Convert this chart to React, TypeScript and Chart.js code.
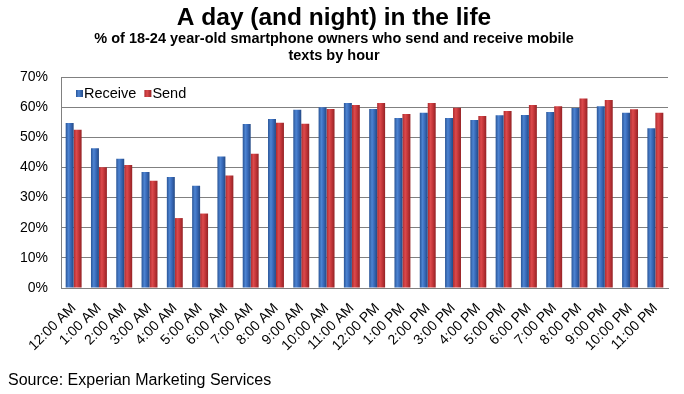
import React, { useEffect, useRef } from "react";
import { Chart, registerables } from "chart.js";

Chart.register(...registerables);

const hours: string[] = [
  "12:00 AM", "1:00 AM", "2:00 AM", "3:00 AM", "4:00 AM", "5:00 AM",
  "6:00 AM", "7:00 AM", "8:00 AM", "9:00 AM", "10:00 AM", "11:00 AM",
  "12:00 PM", "1:00 PM", "2:00 PM", "3:00 PM", "4:00 PM", "5:00 PM",
  "6:00 PM", "7:00 PM", "8:00 PM", "9:00 PM", "10:00 PM", "11:00 PM",
];

const receiveValues: number[] = [
  54.7, 46.4, 42.9, 38.5, 36.8, 33.9, 43.6, 54.4, 56.1, 59.1, 60.0, 61.4,
  59.4, 56.4, 58.1, 56.4, 55.7, 57.3, 57.4, 58.4, 59.7, 60.3, 58.1, 53.0,
];

const sendValues: number[] = [
  52.5, 40.1, 40.8, 35.6, 23.2, 24.7, 37.3, 44.5, 54.8, 54.5, 59.4, 60.7,
  61.4, 57.7, 61.4, 59.8, 57.1, 58.7, 60.7, 60.3, 62.9, 62.4, 59.3, 58.1,
];

const yTicks: number[] = [0, 10, 20, 30, 40, 50, 60, 70];

const titleText = "A day (and night) in the life";
const subtitleLines = [
  "% of 18-24 year-old smartphone owners who send and receive mobile",
  "texts by hour",
];
const sourceText = "Source: Experian Marketing Services";

const FONT = "Arial, 'Liberation Sans', sans-serif";
const CAT_PCT = 0.63;

const palette = {
  receive: ["#2a5597", "#4d84d2", "#3a6cbc", "#244a85"],
  send: ["#ad2b2f", "#dc4a4c", "#c7383b", "#942225"],
};

function barGradient(ctx: any, colors: string[]) {
  const chart = ctx.chart;
  const xs = chart.scales && chart.scales.x;
  if (!chart.chartArea || !xs || ctx.dataIndex === undefined) return colors[2];
  const n = chart.data.labels.length;
  const bw = (xs.width / n) * CAT_PCT / 2;
  const center = xs.getPixelForValue(ctx.dataIndex) + (ctx.datasetIndex === 0 ? -bw / 2 : bw / 2);
  const left = center - bw / 2;
  const right = center + bw / 2;
  const g = chart.ctx.createLinearGradient(left, 0, right, 0);
  g.addColorStop(0, colors[0]);
  g.addColorStop(0.35, colors[1]);
  g.addColorStop(0.6, colors[2]);
  g.addColorStop(1, colors[3]);
  return g;
}

const overlayPlugin = {
  id: "overlay",
  afterDraw(chart: any) {
    const ctx = chart.ctx;
    const area = chart.chartArea;
    ctx.save();
    // legend inside the plot area
    ctx.font = `14.5px ${FONT}`;
    ctx.textBaseline = "middle";
    ctx.textAlign = "left";
    let x = area.left + 15;
    const y = area.top + 16.5;
    chart.data.datasets.forEach((ds: any, i: number) => {
      const cols = i === 0 ? palette.receive : palette.send;
      const g = ctx.createLinearGradient(x, 0, x + 7, 0);
      g.addColorStop(0, cols[0]);
      g.addColorStop(0.4, cols[1]);
      g.addColorStop(1, cols[3]);
      ctx.fillStyle = g;
      ctx.fillRect(x, y - 3.5, 7, 7);
      ctx.fillStyle = "#000";
      ctx.fillText(ds.label, x + 8, y);
      x += 8 + ctx.measureText(ds.label).width + 8;
    });
    // source line
    ctx.font = `16px ${FONT}`;
    ctx.fillStyle = "#000";
    ctx.fillText(sourceText, 8, 381);
    ctx.restore();
  },
};

export default function App() {
  const canvasRef = useRef<HTMLCanvasElement | null>(null);

  useEffect(() => {
    const canvas = canvasRef.current;
    if (!canvas) return;
    const chart = new Chart(canvas, {
      type: "bar",
      data: {
        labels: hours,
        datasets: [
          {
            label: "Receive",
            data: receiveValues,
            backgroundColor: (c: any) => barGradient(c, palette.receive),
            borderWidth: 0,
            categoryPercentage: CAT_PCT,
            barPercentage: 1,
          },
          {
            label: "Send",
            data: sendValues,
            backgroundColor: (c: any) => barGradient(c, palette.send),
            borderWidth: 0,
            categoryPercentage: CAT_PCT,
            barPercentage: 1,
          },
        ],
      },
      options: {
        animation: false,
        responsive: false,
        maintainAspectRatio: false,
        layout: { padding: { left: 0, right: 16, top: 0, bottom: 40 } },
        plugins: {
          legend: { display: false },
          tooltip: { enabled: false },
          title: {
            display: true,
            text: titleText,
            color: "#000",
            font: { family: FONT, size: 24.5, weight: "bold", lineHeight: 1 },
            padding: { top: 6, bottom: 0 },
          },
          subtitle: {
            display: true,
            text: subtitleLines,
            color: "#000",
            font: { family: FONT, size: 14.5, weight: "bold", lineHeight: "17px" },
            padding: { top: 0, bottom: 12.5 },
          },
        },
        scales: {
          x: {
            grid: { display: false, drawTicks: false },
            border: { display: true, color: "#808080", width: 1 },
            ticks: {
              color: "#000",
              font: { family: FONT, size: 14 },
              minRotation: 45,
              maxRotation: 45,
              autoSkip: false,
              padding: 12,
            },
            afterFit: (s: any) => {
              s.height = 394 - 288 - 40;
            },
          },
          y: {
            min: 0,
            max: 70,
            afterBuildTicks: (s: any) => {
              s.ticks = yTicks.map((v) => ({ value: v }));
            },
            grid: { color: "#808080", lineWidth: 1, drawTicks: false },
            border: { display: true, color: "#808080", width: 1 },
            ticks: {
              color: "#000",
              font: { family: FONT, size: 14 },
              padding: 13,
              callback: (v: any) => `${v}%`,
            },
            afterFit: (s: any) => {
              s.width = 61;
            },
          },
        },
      },
      plugins: [overlayPlugin],
    });
    return () => chart.destroy();
  }, []);

  return (
    <div style={{ position: "absolute", left: 0, top: 0, width: 684, height: 394, background: "#fff" }}>
      <canvas ref={canvasRef} width={684} height={394} style={{ width: 684, height: 394, display: "block" }} />
    </div>
  );
}
